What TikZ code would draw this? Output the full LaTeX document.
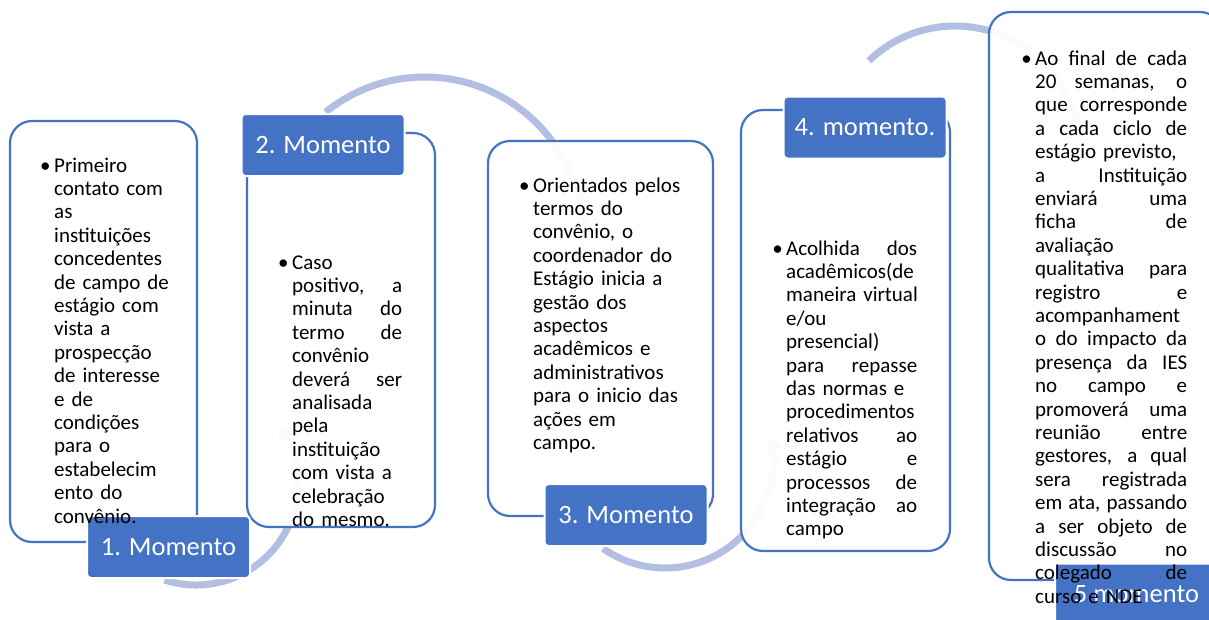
\documentclass[tikz,border=0pt]{standalone}
\usepackage{fontspec}
\setmainfont{Carlito}
\usepackage{tikz}
\usetikzlibrary{arrows.meta}
\usetikzlibrary{calc}
\definecolor{boxblue}{RGB}{68,114,196}
\definecolor{arcblue}{RGB}{178,190,226}
\newcommand{\bodyfont}{\fontsize{21}{23.4}\selectfont}
\newcommand{\labelfont}{\fontsize{26.5}{30}\selectfont}
\newcommand{\jl}[1]{\leavevmode\hbox to \colw{\spaceskip=0pt\xspaceskip=0pt #1}}
\newcommand{\bul}{\leavevmode\llap{\textbullet\hspace{3.5pt}}}

\begin{document}
\begin{tikzpicture}
[x=1pt,y=-1pt,
  boxdecorate/.style={draw=boxblue,line width=2.2pt,fill=white,fill opacity=0.95,
    rounded corners=22pt,inner sep=0pt},
  labeldecorate/.style={fill=boxblue,draw=white,line width=2pt,rounded corners=4pt,
    minimum width=163pt,minimum height=62pt,text=white,font=\labelfont,inner sep=0pt},
  textdecorate/.style={anchor=base west,inner sep=0pt,align=left,text width=300pt,
    font=\bodyfont,execute at begin node={\def\colw{#1}}},
  arcdecorate/.style={draw=arcblue,line width=7pt,-{Triangle[length=12pt,width=18pt]}}]
\useasboundingbox (0,0) rectangle (1209,619);
\clip (0,0) rectangle (1209,619);
%% centres of the arcs
\foreach \name/\x/\y in {c1/196/483, c2/425/235, c3/665/460, c4/955/150}
{
  \coordinate (\name) at (\x,\y);
}
%% arcs behind the boxes
\draw[arcdecorate] ($(c1)+(108:102)$) arc[start angle=108,end angle=-35,radius=102];
\draw[arcdecorate] ($(c2)+(-129:158)$) arc[start angle=-129,end angle=-3,radius=158];
\draw[arcdecorate] ($(c3)+(125:108)$) arc[start angle=125,end angle=-12,radius=108];
\draw[arcdecorate] ($(c4)+(-134:124)$) arc[start angle=-134,end angle=-5,radius=124];
%% boxes
\foreach \name/\x/\y/\w/\h in {box1/103.5/331.5/187/421, box2/341/330/188/394,
  box3/600.5/328.5/225/375, box4/845.5/330.5/209/441, box5/1105.5/296/233/568}
{
  \node[boxdecorate,minimum width=\w pt,minimum height=\h pt] (\name) at (\x,\y) {};
}
%% labels
\foreach \name/\x/\y/\txt in {lab1/168.5/547/1. Momento, lab2/323/145/2. Momento,
  lab3/626/515/3. Momento, lab4/865/127.5/4. momento., lab5/1136.5/594.5/5 momento}
{
  \node[labeldecorate] (\name) at (\x,\y) {\txt};
}
%% texts
\node[textdecorate=0pt] (text1) at (54,172) {\bul Primeiro\\ contato com\\ as\\
  instituições\\ concedentes\\ de campo de\\ estágio com\\ vista a\\ prospecção\\
  de interesse\\ e de\\ condições\\ para o\\ estabelecim\\ ento do\\ convênio.};
\node[textdecorate=110pt] (text2) at (292,269) {\bul Caso\\ \jl{positivo, a}\\
  \jl{minuta do}\\ \jl{termo de}\\ convênio\\ \jl{deverá ser}\\ analisada\\ pela\\
  instituição\\ com vista a\\ celebração\\ do mesmo.};
\node[textdecorate=0pt] (text3) at (533,192) {\bul Orientados pelos\\ termos do\\
  convênio, o\\ coordenador do\\ Estágio inicia a\\ gestão dos\\ aspectos\\
  acadêmicos e\\ administrativos\\ para o inicio das\\ ações em\\ campo.};
\node[textdecorate=131pt] (text4) at (786,255) {\bul\jl{Acolhida dos}\\
  acadêmicos(de\\ maneira virtual\\ e/ou\\ presencial)\\ \jl{para repasse}\\
  das normas e\\ procedimentos\\ \jl{relativos ao}\\ \jl{estágio e}\\
  \jl{processos de}\\ \jl{integração ao}\\ campo};
\node[textdecorate=152pt] (text5) at (1035,65) {\bul\jl{Ao final de cada}\\
  \jl{20 semanas, o}\\ \jl{que corresponde}\\ \jl{a cada ciclo de}\\
  estágio previsto,\\ \jl{a Instituição}\\ \jl{enviará uma}\\ \jl{ficha de}\\
  avaliação\\ \jl{qualitativa para}\\ \jl{registro e}\\ acompanhament\\
  \jl{o do impacto da}\\ \jl{presença da IES}\\ \jl{no campo e}\\
  \jl{promoverá uma}\\ \jl{reunião entre}\\ \jl{gestores, a qual}\\
  \jl{sera registrada}\\ \jl{em ata, passando}\\ \jl{a ser objeto de}\\
  \jl{discussão no}\\ \jl{colegado de}\\ curso e NDE};
\end{tikzpicture}
\end{document}
